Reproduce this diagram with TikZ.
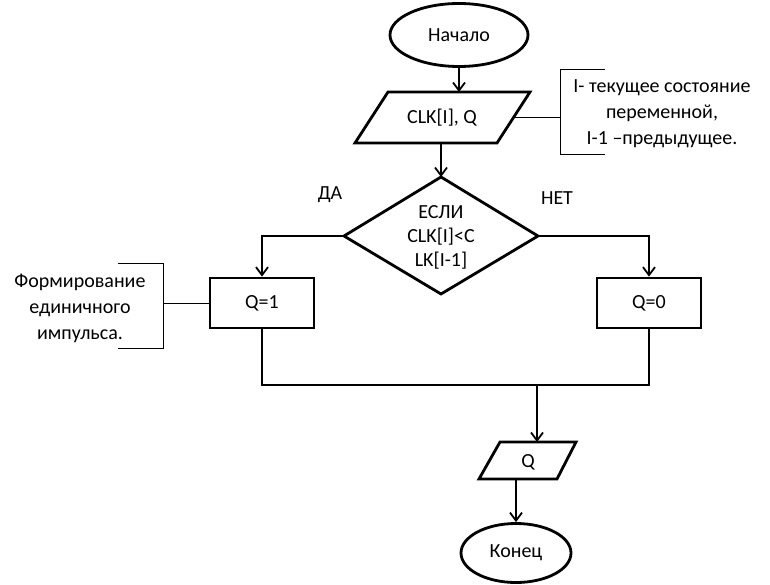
\documentclass[tikz,border=0pt]{standalone}
\usepackage{fontspec}
\setmainfont{Carlito}
\usetikzlibrary{arrows.meta,shapes.geometric}
\begin{document}
\begin{tikzpicture}[x=1pt,y=-1pt,
  shp/.style={draw, line width=2.8pt, line join=miter},
  con/.style={line width=2.4pt},
  arr/.style={con,-{Straight Barb[length=8pt,width=12pt,line width=1.8pt]}},
  ann/.style={line width=1pt},
  lbl/.style={font=\fontsize{20}{25}\selectfont, align=center, inner sep=0pt},
  note/.style={lbl, font=\fontsize{20}{26}\selectfont}]
\useasboundingbox (0,0) rectangle (770,585);

% start
\node[shp, ellipse, minimum width=138pt, minimum height=63pt, lbl] (start) at (459,35) {Начало};

% input parallelogram
\coordinate (p1tl) at (388,92);
\coordinate (p1tr) at (530,92);
\coordinate (p1br) at (497,143);
\coordinate (p1bl) at (355,143);
\draw[shp] (p1tl)--(p1tr)--(p1br)--(p1bl)--cycle;
\node[lbl] (p1) at (442,118) {CLK[I], Q};
\coordinate (p1top) at (459,92);
\coordinate (p1bot) at (441,143);
\coordinate (p1r) at (513.5,117.5);

% annotation 1
\coordinate (a1) at (560,117.5);
\coordinate (a1t) at (560,70);
\coordinate (a1b) at (560,155);
\coordinate (a1te) at (605,70);
\coordinate (a1be) at (605,155);
\draw[ann] (p1r) -- (a1);
\draw[ann] (a1te) -- (a1t) -- (a1b) -- (a1be);
\node[note] (t1) at (662,114) {I- текущее состояние\\переменной,\\I-1 –предыдущее.};

% decision diamond
\coordinate (dt) at (441,177);
\coordinate (dr) at (538,236);
\coordinate (db) at (441,294);
\coordinate (dl) at (344,236);
\draw[shp] (dt)--(dr)--(db)--(dl)--cycle;
\node[lbl, font=\fontsize{20}{24}\selectfont] (d) at (441,237) {ЕСЛИ\\CLK[I]<C\\LK[I-1]};

\node[lbl] (yes) at (330,195) {ДА};
\node[lbl] (no) at (557,198) {НЕТ};

% process boxes
\node[shp, rectangle, minimum width=104pt, minimum height=50pt, lbl] (b1) at (262,303) {Q=1};
\node[shp, rectangle, minimum width=104pt, minimum height=50pt, lbl] (b0) at (649,303) {Q=0};

\draw[arr] (dl) -- (b1.north |- dl) -- (b1.north);
\draw[arr] (dr) -- (b0.north |- dr) -- (b0.north);
\draw[arr] (start.south) -- (p1top);
\draw[arr] (p1bot) -- (dt);

% annotation 2
\coordinate (a2) at (163,303);
\coordinate (a2t) at (163,263);
\coordinate (a2b) at (163,348);
\coordinate (a2te) at (118,263);
\coordinate (a2be) at (118,348);
\draw[ann] (b1.west) -- (a2);
\draw[ann] (a2te) -- (a2t) -- (a2b) -- (a2be);
\node[note] (t2) at (80,308) {Формирование\\единичного\\импульса.};

% merge
\coordinate (m1) at (262,385);
\coordinate (m0) at (649,385);
\coordinate (mm) at (537,385);
\draw[con] (b1.south) -- (m1) -- (m0) -- (b0.south);

% output parallelogram
\coordinate (p2tl) at (500,442);
\coordinate (p2tr) at (576,442);
\coordinate (p2br) at (557,479);
\coordinate (p2bl) at (479,479);
\draw[shp] (p2tl)--(p2tr)--(p2br)--(p2bl)--cycle;
\node[lbl] (p2) at (528,462) {Q};
\coordinate (p2top) at (537,442);
\coordinate (p2bot) at (516,479);
\draw[arr] (mm) -- (p2top);

% end
\node[shp, ellipse, minimum width=110pt, minimum height=59pt, lbl] (end) at (516,553) {Конец};
\draw[arr] (p2bot) -- (end.north);
\end{tikzpicture}
\end{document}
